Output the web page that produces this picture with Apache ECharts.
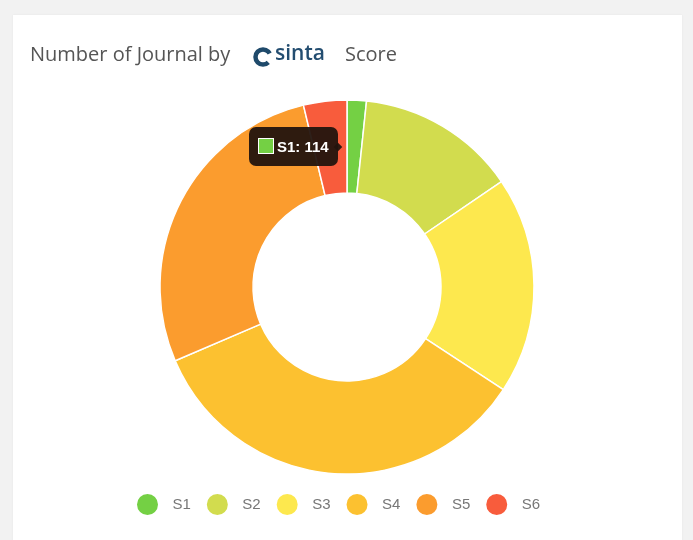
<!DOCTYPE html>
<html>
<head>
<meta charset="utf-8">
<script src="https://cdn.jsdelivr.net/npm/echarts@6/dist/echarts.min.js"></script>
<style>
  html, body { margin: 0; padding: 0; background: #f2f2f2; }
  #card { position: absolute; left: 13px; top: 15px; width: 669px; height: 540px; background: #ffffff; box-shadow: 0 0 2px rgba(0,0,0,0.06); }
  #chart { position: absolute; left: 0; top: 0; width: 693px; height: 540px; }
</style>
</head>
<body>
<div id="card"></div>
<div id="chart"></div>
<script>
// ---- data ----
var categories = ['S1', 'S2', 'S3', 'S4', 'S5', 'S6'];
var journalCounts = [114, 944, 1285, 2346, 1896, 256];
var sliceColors = ['#74d044', '#d2dc4e', '#fde84e', '#fcc130', '#fb9c2e', '#f85c3c'];
var titleParts = ['Number of Journal by', 'sinta', 'Score'];

var chart = echarts.init(document.getElementById('chart'), null, { renderer: 'canvas' });

var pieData = categories.map(function (c, i) {
  return { name: c, value: journalCounts[i], itemStyle: { color: sliceColors[i] } };
});

var option = {
  animation: false,
  backgroundColor: 'transparent',
  title: [
    { text: titleParts[0], left: 30, top: 45, padding: 0,
      textStyle: { fontFamily: 'Open Sans', fontSize: 20, fontWeight: 'normal', color: '#555555' } },
    { text: titleParts[1], left: 275, top: 44, padding: 0,
      textStyle: { fontFamily: 'Open Sans', fontSize: 21, fontWeight: 600, color: '#234d70' } },
    { text: titleParts[2], left: 345, top: 45, padding: 0,
      textStyle: { fontFamily: 'Open Sans', fontSize: 20, fontWeight: 'normal', color: '#555555' } }
  ],
  graphic: [
    { type: 'arc', shape: { cx: 263, cy: 57, r: 7.5, startAngle: Math.PI * 0.25, endAngle: Math.PI * 1.85 },
      style: { stroke: '#1f4a6b', lineWidth: 4.5, fill: null } }
  ],
  tooltip: {
    trigger: 'item',
    triggerOn: 'none',
    alwaysShowContent: true,
    position: 'left',
    transitionDuration: 0,
    backgroundColor: 'rgba(35,20,14,0.95)',
    borderColor: 'rgba(35,20,14,0.95)',
    borderWidth: 0,
    padding: [8, 9],
    extraCssText: 'box-shadow:none;border-radius:7px;',
    textStyle: { color: '#ffffff', fontFamily: 'Liberation Sans', fontSize: 15, fontWeight: 'bold' },
    formatter: function (p) {
      return '<span style="display:inline-block;vertical-align:-2px;width:16px;height:16px;margin-right:3px;background:' +
        p.color + ';border:1px solid #ffffff;box-sizing:border-box;"></span>' + p.name + ': ' + p.value;
    }
  },
  legend: {
    data: categories,
    left: 130,
    top: 487,
    icon: 'circle',
    itemWidth: 40,
    itemHeight: 23,
    itemGap: 14,
    textStyle: { fontFamily: 'Liberation Sans', fontSize: 15, color: '#777777' }
  },
  series: [{
    type: 'pie',
    center: [347, 287],
    radius: [94, 187],
    startAngle: 90,
    clockwise: true,
    label: { show: false },
    labelLine: { show: false },
    emphasis: { disabled: true },
    itemStyle: { borderColor: '#ffffff', borderWidth: 1.5 },
    data: pieData
  }]
};

chart.setOption(option);
function showTip() {
  chart.dispatchAction({ type: 'showTip', seriesIndex: 0, dataIndex: 0 });
}
showTip();
setTimeout(showTip, 30);
</script>
</body>
</html>
